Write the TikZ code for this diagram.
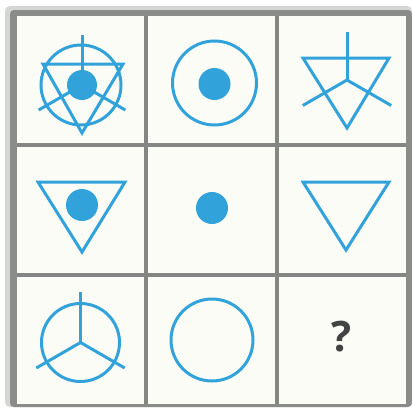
\documentclass[tikz,border=0pt]{standalone}
\usepackage{tikz}
\usepackage{xcolor}
\usepackage{fontspec}
\setsansfont{Open Sans}
\usetikzlibrary{calc}
\definecolor{pagebg}{RGB}{255,255,255}
\definecolor{framelight}{RGB}{212,214,212}
\definecolor{framedark}{RGB}{138,140,138}
\definecolor{gridgray}{RGB}{132,134,132}
\definecolor{cellbg}{RGB}{252,252,246}
\definecolor{symblue}{RGB}{50,162,219}
\definecolor{qmarkgray}{RGB}{66,68,68}

\begin{document}
\begin{tikzpicture}[
    x=1pt, y=-1pt,
    symline/.style={draw=symblue, line width=3pt},
    symdot/.style={fill=symblue}
]

% Page and outer frame
\useasboundingbox (0,0) rectangle (412,407);
\fill[pagebg] (0,0) rectangle (412,407);
\fill[framelight, rounded corners=5pt] (5,6) rectangle (412,407);
\fill[framedark, rounded corners=4pt] (10,10) rectangle (412,407);
\fill[cellbg] (17,16) rectangle (406,404);

% Grid lines
\draw[gridgray, line width=4pt] (146,16) -- (146,404);
\draw[gridgray, line width=4pt] (277,16) -- (277,404);
\draw[gridgray, line width=4pt] (17,144.5) -- (406,144.5);
\draw[gridgray, line width=4pt] (17,275) -- (406,275);

% Row 1, cell 1: circle, triangle, dot and spokes
\coordinate (C11) at (82,85);
\draw[symline] (81,85) circle (40);
\draw[symline, line join=miter] (43,64) -- (123,64) -- (82,133) -- cycle;
\draw[symline] (C11) -- ++(0,-50);
\draw[symline] (C11) -- ++(-43.3,25);
\draw[symline] (C11) -- ++(43.3,25);
\fill[symdot] (C11) circle (15);

% Row 1, cell 2: circle and dot
\coordinate (C12) at (214.5,84);
\draw[symline] (214.5,83) circle (42);
\fill[symdot] (C12) circle (16);

% Row 1, cell 3: triangle and spokes
\coordinate (C13) at (347,80);
\draw[symline, line join=miter] (303,58) -- (389,58) -- (347,128) -- cycle;
\draw[symline] (C13) -- ++(0,-48);
\draw[symline] (C13) -- ++(-44.2,25.5);
\draw[symline] (C13) -- ++(44.2,25.5);

% Row 2, cell 1: triangle and dot
\coordinate (C21) at (82,205);
\draw[symline, line join=miter] (38,182) -- (125,182) -- (82,252) -- cycle;
\fill[symdot] (C21) circle (16);

% Row 2, cell 2: dot
\coordinate (C22) at (212,208);
\fill[symdot] (C22) circle (16);

% Row 2, cell 3: triangle
\draw[symline, line join=miter] (303,182) -- (389,182) -- (346,250) -- cycle;

% Row 3, cell 1: circle and spokes
\coordinate (C31) at (80.5,342.5);
\draw[symline] (C31) circle (39);
\draw[symline] (C31) -- ++(0,-51);
\draw[symline] (C31) -- ++(-44.2,25.5);
\draw[symline] (C31) -- ++(44.2,25.5);

% Row 3, cell 2: circle
\coordinate (C32) at (212,340);
\draw[symline] (C32) circle (41);

% Row 3, cell 3: missing piece
\node[text=qmarkgray, font=\sffamily\bfseries\fontsize{42}{42}\selectfont, inner sep=0pt] (qmark) at (342,337) {?};

\end{tikzpicture}
\end{document}
